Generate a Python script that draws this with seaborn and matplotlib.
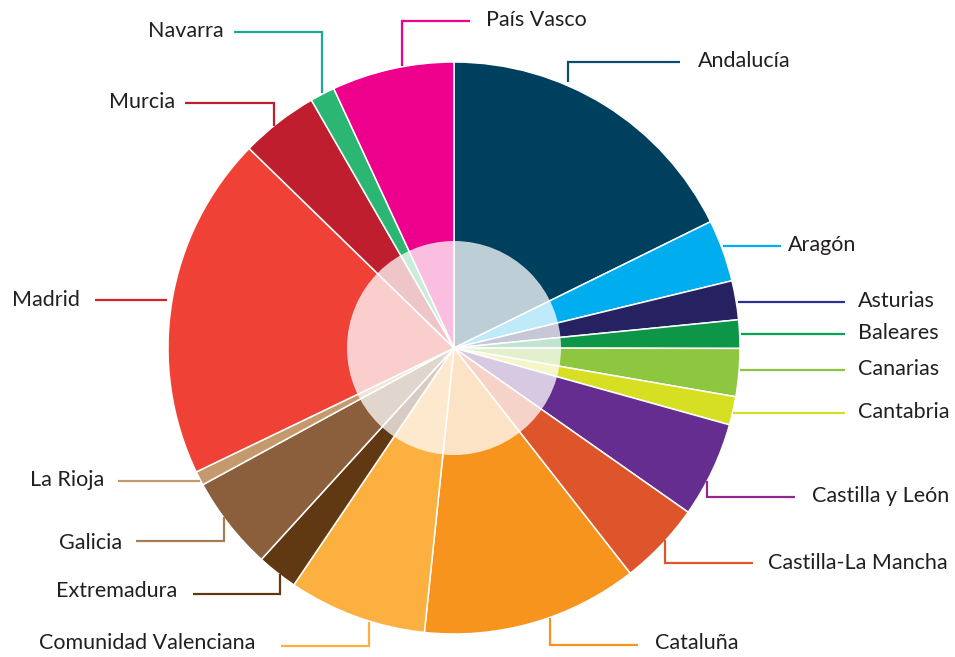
import matplotlib
matplotlib.use("Agg")
import matplotlib.pyplot as plt
from matplotlib.patches import Circle
import seaborn as sns

# ---- data ----
regions = ["Andalucía", "Aragón", "Asturias", "Baleares", "Canarias", "Cantabria",
           "Castilla y León", "Castilla-La Mancha", "Cataluña", "Comunidad Valenciana",
           "Extremadura", "Galicia", "La Rioja", "Madrid", "Murcia", "Navarra", "País Vasco"]
shares = [17.7, 3.5, 2.2, 1.6, 2.7, 1.6, 5.4, 4.7, 12.2, 7.8, 2.3, 5.3, 0.8, 19.4, 4.4, 1.4, 6.9]
slice_colors = ["#00405f", "#00aeef", "#262262", "#0e9648", "#8dc63f", "#d7df23",
                "#662d91", "#df552b", "#f7941e", "#fbb040", "#603913", "#8b5e3c",
                "#c49a6c", "#ef4136", "#be1e2d", "#2bb673", "#ec008c"]
line_colors = ["#0b4d6b", "#00aeef", "#2e3192", "#00a651", "#8dc63f", "#d7df23",
               "#92278f", "#df552b", "#f7941e", "#fbb040", "#603913", "#a67c52",
               "#c49a6c", "#d2232a", "#be1e2d", "#1ba99a", "#ec008c"]

# ---- layout (pixel coordinates, y downward) ----
CX, CY, R, R_IN = 454, 348, 286, 107
label_layout = {
    "Andalucía": ([(568, 82), (568, 62), (680, 62)], (698, 61), "left"),
    "Aragón": ([(723, 246), (781, 246)], (788, 245), "left"),
    "Asturias": ([(738, 302), (845, 302)], (858, 301), "left"),
    "Baleares": ([(741, 334), (845, 334)], (858, 333), "left"),
    "Canarias": ([(740, 370), (845, 370)], (858, 369), "left"),
    "Cantabria": ([(733, 413), (845, 413)], (858, 412), "left"),
    "Castilla y León": ([(707, 481), (707, 497), (795, 497)], (812, 496), "left"),
    "Castilla-La Mancha": ([(665, 540), (665, 563), (753, 563)], (768, 563), "left"),
    "Cataluña": ([(550, 618), (550, 645), (638, 645)], (655, 643), "left"),
    "Comunidad Valenciana": ([(369, 622), (369, 646), (281, 646)], (255, 643), "right"),
    "Extremadura": ([(280, 574), (280, 594), (193, 594)], (177, 591), "right"),
    "Galicia": ([(224, 517), (224, 541), (136, 541)], (122, 543), "right"),
    "La Rioja": ([(200, 481), (118, 481)], (104, 480), "right"),
    "Madrid": ([(167, 300), (95, 300)], (80, 300), "right"),
    "Murcia": ([(274, 126), (274, 103), (185, 103)], (175, 102), "right"),
    "Navarra": ([(322, 93), (322, 32), (234, 32)], (224, 31), "right"),
    "País Vasco": ([(402, 66), (402, 21), (470, 21)], (486, 20), "left"),
}

sns.set_theme(style="white")
plt.rcParams["font.family"] = ["Lato", "DejaVu Sans"]

fig = plt.figure(figsize=(9.55, 6.57), dpi=100)
ax = fig.add_axes([0, 0, 1, 1])

palette = sns.color_palette(slice_colors)
ax.pie(shares, colors=palette, startangle=-90, counterclock=True,
       radius=R, center=(CX, CY),
       wedgeprops=dict(edgecolor="white", linewidth=1.1))

ax.add_patch(Circle((CX, CY), R_IN, facecolor="white", edgecolor="none",
                    alpha=0.75, zorder=5))

for name, lc in zip(regions, line_colors):
    pts, (tx, ty), ha = label_layout[name]
    xs = [p[0] for p in pts]
    ys = [p[1] for p in pts]
    ax.plot(xs, ys, color=lc, linewidth=1.6, solid_capstyle="butt",
            solid_joinstyle="miter", zorder=6)
    ax.text(tx, ty, name, ha=ha, va="center", fontsize=15.5, color="#231f20", zorder=7)

ax.set_xlim(0, 955)
ax.set_ylim(657, 0)
ax.set_aspect("equal")
ax.axis("off")

fig.savefig("out.png", dpi=100, facecolor="white")
